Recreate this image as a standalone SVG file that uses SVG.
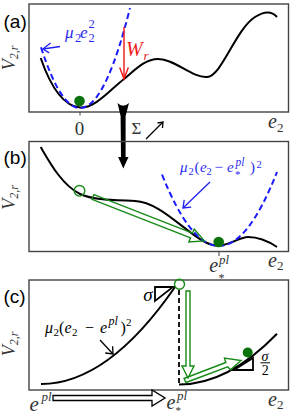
<svg xmlns="http://www.w3.org/2000/svg" width="291" height="415" viewBox="0 0 291 415">
<style>
.frame{fill:none;stroke:#444;stroke-width:1.4}
.tick{stroke:#444;stroke-width:1}
.curve{fill:none;stroke:#000;stroke-width:2}
.dash{fill:none;stroke:#1a1aff;stroke-width:2;stroke-dasharray:6 3.5}
.m{font-family:"Liberation Serif","DejaVu Serif",serif;font-style:italic}
.up{font-style:normal}
.lbl{font-family:"Liberation Sans",Arial,sans-serif;font-size:19px;fill:#000}
.ax{fill:#333}
.blue{fill:#2b2bf0}
.bl{fill:none;stroke:#2020f0;stroke-width:1.3}
.red{fill:none;stroke:#f01414;stroke-width:1.4}
.blk{fill:none;stroke:#000;stroke-width:1.3}
.gopen{fill:none;stroke:#168a16;stroke-width:1.4}
.dot{fill:#0b720b}
.tri{fill:none;stroke:#000;stroke-width:1.8;stroke-linejoin:miter}
</style>

<g id="panel-a">
  <rect class="frame" x="29" y="4" width="259.5" height="108"/>
  <line class="tick" x1="80" y1="112" x2="80" y2="115.5"/>
  <text class="lbl" x="3.5" y="27.5">(a)</text>
  <text class="m ax" font-size="18" text-anchor="middle" transform="translate(14.5,58) rotate(-90)">V<tspan font-size="12" dy="3.5">2,r</tspan></text>
  <text class="m up ax" font-size="19" x="79.5" y="135" text-anchor="middle">0</text>
  <text class="m ax" font-size="20" x="268" y="128">e<tspan font-size="13" x="277" y="131.5" class="up">2</tspan></text>
  <path id="curve-a" class="curve" d="M40.7,58 C50,85 62,106 80,107.5 C95,108.5 110,90 124,79 C135,70 145,59 158,59 C175,59 192,78 207,77 C222,76 235,30 255,17 C262,12.5 271,10 277,17"/>
  <path id="parabola-a" class="dash" d="M41,47.2 Q85.5,186 130,8"/>
  <circle id="ball-a" class="dot" cx="79.5" cy="101" r="5.3"/>
  <text class="m blue" font-size="17"><tspan x="65" y="38.3">μ</tspan><tspan class="up" x="75" y="41.7" font-size="12.5">2</tspan><tspan x="80" y="38.3">e</tspan><tspan class="up" x="88.5" y="28" font-size="12.5">2</tspan><tspan class="up" x="88.5" y="42" font-size="12.5">2</tspan></text>
  <text class="m" font-size="20" fill="#f02020" x="126" y="56">W<tspan font-size="13" x="143.5" y="60">r</tspan></text>
</g>

<g id="transition">
  <path id="big-arrow" fill="#000" d="M117.5,103 Q123,108.5 129,103 L125.6,116 L125.6,157 L128.5,157 L123.3,168.5 L118.1,157 L121,157 L120.6,116 Z"/>
  <text class="m up ax" font-size="17" x="131.5" y="134">Σ</text>
</g>

<g id="panel-b">
  <rect class="frame" x="29" y="141.5" width="259.5" height="110"/>
  <line class="tick" x1="219" y1="251.5" x2="219" y2="256"/>
  <text class="lbl" x="3.5" y="163.5">(b)</text>
  <text class="m ax" font-size="18" text-anchor="middle" transform="translate(14.5,197.5) rotate(-90)">V<tspan font-size="12" dy="3.5">2,r</tspan></text>
  <text class="m ax" font-size="20" x="268" y="266.5">e<tspan font-size="13" x="277" y="270" class="up">2</tspan></text>
  <text class="m ax" font-size="20"><tspan x="209.3" y="272">e</tspan><tspan font-size="13" x="219" y="263.8">pl</tspan><tspan font-size="12" class="up" x="218.5" y="281.5">*</tspan></text>
  <path id="curve-b" class="curve" d="M40.7,147 C50,163 62,185 80,194 C92,200 115,200 135,201 C160,202 185,232 205,242 C211,245 216,246 220,245.5 C232,244 240,237 248,237 C258,237 268,241 277,247"/>
  <path id="parabola-b" class="dash" d="M162,174.5 Q219.5,318.7 277,172"/>
  <circle id="start-b" class="gopen" cx="79.5" cy="190.8" r="5.3"/>
  <circle id="ball-b" class="dot" cx="218.7" cy="242" r="5.3"/>
  <text class="m blue" font-size="15"><tspan x="180" y="171.5">μ</tspan><tspan class="up" font-size="10.5" x="188.5" y="174.5">2</tspan><tspan class="up" x="194.5" y="171.5">(</tspan><tspan x="200" y="171.5">e</tspan><tspan class="up" font-size="10.5" x="206.5" y="174.5">2</tspan><tspan class="up" x="214.5" y="171.5">−</tspan><tspan x="227" y="171.5">e</tspan><tspan font-size="11.5" x="235.5" y="166">pl</tspan><tspan class="up" font-size="11" x="235" y="178">*</tspan><tspan class="up" x="250" y="171.5">)</tspan><tspan class="up" font-size="10.5" x="256.5" y="168.3">2</tspan></text>
</g>

<g id="panel-c">
  <rect class="frame" x="29" y="280" width="259.5" height="110"/>
  <text class="lbl" x="3.5" y="302.5">(c)</text>
  <text class="m ax" font-size="18" text-anchor="middle" transform="translate(14.5,344) rotate(-90)">V<tspan font-size="12" dy="3.5">2,r</tspan></text>
  <text class="m ax" font-size="20" x="268" y="405.7">e<tspan font-size="13" x="277" y="409" class="up">2</tspan></text>
  <text class="m ax" font-size="21"><tspan x="29.5" y="410.5">e</tspan><tspan font-size="13" x="41.5" y="400.5">pl</tspan></text>
  <text class="m ax" font-size="20"><tspan x="166.5" y="409">e</tspan><tspan font-size="13" x="177" y="400">pl</tspan><tspan font-size="11" class="up" x="175.5" y="413.5">*</tspan></text>
  <path id="curve-c-left" class="curve" d="M41,384 Q108,384 175,287"/>
  <path id="curve-c-right" class="curve" d="M179,384.5 Q228,384.5 277,333.7"/>
  <line id="drop-line" x1="179" y1="290" x2="179" y2="384.5" stroke="#000" stroke-width="1.8" stroke-dasharray="5 3"/>
  <path id="slope-sigma" class="tri" d="M155,287 L173,287 L155,301 Z"/>
  <path id="slope-half" class="tri" d="M234,370 L253,370 L253,358 Z"/>
  <text class="m" font-size="19" x="143.3" y="301">σ</text>
  <text class="m" font-size="14" x="261.5" y="360.5">σ</text>
  <line x1="260.5" y1="362.8" x2="270" y2="362.8" stroke="#000" stroke-width="1"/>
  <text class="m up" font-size="14" x="261.8" y="374.5">2</text>
  <circle id="start-c" class="gopen" cx="179.5" cy="284.3" r="5"/>
  <circle id="ball-c" class="dot" cx="247.7" cy="352.5" r="5"/>
  <text class="m" font-size="16"><tspan x="45" y="333">μ</tspan><tspan class="up" font-size="11" x="53.5" y="336">2</tspan><tspan class="up" x="59" y="333">(</tspan><tspan x="64.5" y="333">e</tspan><tspan class="up" font-size="11" x="72" y="336">2</tspan><tspan class="up" x="85" y="333">−</tspan><tspan x="100" y="333">e</tspan><tspan font-size="12" x="108.5" y="325">pl</tspan><tspan class="up" x="120.5" y="333">)</tspan><tspan class="up" font-size="11" x="126" y="326">2</tspan></text>
</g>

<g id="connectors">
  <polyline class="bl" points="60,46.5 43,49"/>
  <polyline class="bl" points="50.6,43.1 43,49 49.2,52.9"/>
  <polyline class="red" points="124,27 124,79"/>
  <polyline class="red" points="119.7,67.5 124,79 128.3,67.5"/>
  <polyline class="blk" points="146,139 163,122"/>
  <polyline class="blk" points="157.5,123 163,122 162.5,128"/>
  <polyline class="bl" points="210,182 183,208"/>
  <polyline class="bl" points="191.2,207.1 183,208 184.2,199.9"/>
  <polyline class="blk" points="100,340 113,354"/>
  <polyline class="blk" points="105.2,353 113,354 112.6,346.2"/>
  <polygon id="slide-b" class="gopen" points="93.96,194.69 192.46,233.19 194.2,229 204.4,240.9 188.8,242 190.54,237.81 92.04,199.31"/>
  <polygon id="drop-c" class="gopen" points="186,291 190,291 190,366 194,366 188,378 182,366 186,366"/>
  <polygon id="climb-c" class="gopen" points="184,378.5 225.8,362.5 224.5,358 241,360.5 230.5,369.8 227.7,366.9 186,382.5"/>
  <polygon id="shift-c" fill="#fff" stroke="#000" stroke-width="1.3" points="53,395.5 152,395.5 152,390 165,398 152,406 152,400.5 53,400.5"/>
</g>
</svg>
